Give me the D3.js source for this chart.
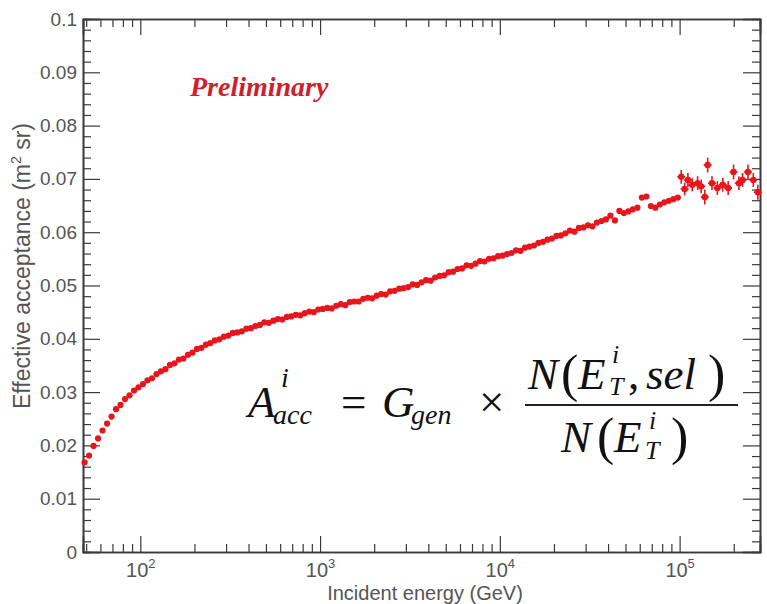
<!DOCTYPE html>
<html>
<head>
<meta charset="utf-8">
<script src="https://cdn.jsdelivr.net/npm/d3@7"></script>
<style>
  html, body { margin: 0; padding: 0; background: #fff; }
  svg { display: block; }
  .tick text { font-family: "Liberation Sans", Arial, sans-serif; fill: #555; }
</style>
</head>
<body>
<svg id="chart" width="767" height="604"></svg>
<script>
// ---------------- data ----------------
// log10 of incident energy (GeV), low-energy bins
const logEnergy = [
  1.690,1.715,1.740,1.765,1.790,1.815,1.840,1.865,1.890,1.915,1.940,1.965,1.990,
  2.015,2.040,2.065,2.090,2.115,2.140,2.165,2.190,2.215,2.240,2.265,2.290,2.315,
  2.340,2.365,2.390,2.415,2.440,2.465,2.490,2.515,2.540,2.565,2.590,2.615,2.640,
  2.665,2.690,2.715,2.740,2.765,2.790,2.815,2.840,2.865,2.890,2.915,2.940,2.965,
  2.990,3.015,3.040,3.065,3.090,3.115,3.140,3.165,3.190,3.215,3.240,3.265,3.290,
  3.315,3.340,3.365,3.390,3.415,3.440,3.465,3.490,3.515,3.540,3.565,3.590,3.615,
  3.640,3.665,3.690,3.715,3.740,3.765,3.790,3.815,3.840,3.865,3.890,3.915,3.940,
  3.965,3.990,4.015,4.040,4.065,4.090,4.115,4.140,4.165,4.190,4.215,4.240,4.265,
  4.290,4.315,4.340,4.365,4.390,4.415,4.440,4.465,4.490,4.515,4.540,4.565,4.590,
  4.615,4.640,4.665,4.690,4.715,4.740,4.765,4.790,4.815,4.840,4.865,4.890,4.915,
  4.940,4.965,4.990
];
// effective acceptance (m^2 sr) for those bins
const acceptance = [
  0.0168,0.0181,0.0199,0.0213,0.0228,0.0241,0.0254,0.0268,0.0276,0.0287,0.0294,0.0303,0.0309,
  0.0315,0.0322,0.0326,0.0334,0.0339,0.0343,0.0351,0.0354,0.0361,0.0363,0.0370,0.0374,0.0381,
  0.0383,0.0389,0.0392,0.0397,0.0399,0.0404,0.0406,0.0411,0.0412,0.0414,0.0419,0.0420,0.0424,
  0.0426,0.0431,0.0430,0.0434,0.0437,0.0436,0.0441,0.0442,0.0445,0.0444,0.0448,0.0451,0.0450,
  0.0455,0.0456,0.0458,0.0457,0.0462,0.0465,0.0463,0.0469,0.0470,0.0470,0.0475,0.0477,0.0476,
  0.0481,0.0484,0.0483,0.0489,0.0490,0.0494,0.0495,0.0497,0.0502,0.0501,0.0506,0.0510,0.0509,
  0.0515,0.0518,0.0519,0.0525,0.0526,0.0531,0.0532,0.0538,0.0537,0.0541,0.0546,0.0545,0.0550,
  0.0551,0.0555,0.0556,0.0559,0.0561,0.0566,0.0565,0.0571,0.0573,0.0575,0.0580,0.0582,0.0586,
  0.0588,0.0593,0.0594,0.0598,0.0603,0.0601,0.0608,0.0609,0.0613,0.0611,0.0618,0.0621,0.0624,
  0.0631,0.0622,0.0640,0.0636,0.0639,0.0643,0.0646,0.0665,0.0667,0.0649,0.0646,0.0652,0.0656,
  0.0659,0.0662,0.0665
];
// high-energy bins with visible error bars
const logEnergyHigh = [
  5.009,5.028,5.046,5.070,5.100,5.120,5.140,5.156,5.180,5.210,5.240,5.270,5.300,5.330,5.350,5.380,5.410,5.435
];
const acceptanceHigh = [
  0.0704,0.0681,0.0698,0.0689,0.0692,0.0686,0.0666,0.0726,0.0692,0.0683,0.0689,0.0683,0.0713,0.0692,0.0698,0.0713,0.0698,0.0675
];
const errorHigh = [
  0.0013,0.0012,0.0013,0.0012,0.0013,0.0013,0.0014,0.0014,0.0013,0.0013,0.0013,0.0013,0.0014,0.0013,0.0013,0.0014,0.0013,0.0014
];
const yTicks = [0,0.01,0.02,0.03,0.04,0.05,0.06,0.07,0.08,0.09,0.1];
const yTickLabels = ["0","0.01","0.02","0.03","0.04","0.05","0.06","0.07","0.08","0.09","0.1"];
const xDecades = [100,1000,10000,100000];
const xDecadeExp = ["2","3","4","5"];

// ---------------- layout ----------------
const L = 83, R = 760, T = 19, B = 552;
const svg = d3.select("#chart");
const x = d3.scaleLog().domain([48, 2.8e5]).range([L, R]);
const y = d3.scaleLinear().domain([0, 0.1]).range([B, T]);

// minor ticks
const yMinor = d3.range(0, 0.1001, 0.002).filter(v => !yTicks.some(t => Math.abs(t - v) < 1e-9));
const xMinor = [];
[10,100,1000,10000,100000].forEach(d => { for (let k = 2; k <= 9; k++) { const v = d * k; if (v >= 48 && v <= 2.8e5) xMinor.push(v); } });

const axisColor = "#3a3a3a";
const majLen = 17, minLen = 8;

// Left axis (major with labels)
const gL = svg.append("g").attr("transform", `translate(${L},0)`);
gL.call(d3.axisLeft(y).tickValues(yTicks).tickSize(-majLen).tickPadding(6)
  .tickFormat((d,i) => yTickLabels[i]));
gL.call(g => g.selectAll(".tick text").attr("font-size", 19));
gL.append("g").call(d3.axisLeft(y).tickValues(yMinor).tickSize(-minLen).tickFormat(""));

// Right axis ticks
const gR = svg.append("g").attr("transform", `translate(${R},0)`);
gR.call(d3.axisRight(y).tickValues(yTicks).tickSize(-majLen).tickFormat(""));
gR.append("g").call(d3.axisRight(y).tickValues(yMinor).tickSize(-minLen).tickFormat(""));

// Bottom axis
const gB = svg.append("g").attr("transform", `translate(0,${B})`);
gB.call(d3.axisBottom(x).tickValues(xDecades).tickSize(-16).tickPadding(0).tickFormat(""));
gB.append("g").call(d3.axisBottom(x).tickValues(xMinor).tickSize(-minLen).tickFormat(""));
gB.selectAll(".tick").filter(d => xDecades.includes(d)).each(function(d) {
  const i = xDecades.indexOf(d);
  const t = d3.select(this).append("text")
    .attr("y", 25).attr("text-anchor", "middle")
    .attr("font-size", 20).attr("fill", "#555")
    .style("font-family", '"Liberation Sans", Arial, sans-serif');
  t.append("tspan").text("10");
  t.append("tspan").attr("dy", -9).attr("font-size", 13).text(xDecadeExp[i]);
});

// Top axis ticks
const gT = svg.append("g").attr("transform", `translate(0,${T})`);
gT.call(d3.axisTop(x).tickValues(xDecades).tickSize(-16).tickFormat(""));
gT.append("g").call(d3.axisTop(x).tickValues(xMinor).tickSize(-minLen).tickFormat(""));

svg.selectAll(".domain").attr("stroke", axisColor).attr("stroke-width", 1.6);
svg.selectAll(".tick line").attr("stroke", axisColor).attr("stroke-width", 1.2);

// Axis titles
svg.append("text")
  .attr("x", 425).attr("y", 600).attr("text-anchor", "middle")
  .attr("font-size", 20).attr("fill", "#555")
  .style("font-family", '"Liberation Sans", Arial, sans-serif')
  .text("Incident energy (GeV)");

const yt = svg.append("text")
  .attr("transform", "translate(30,266) rotate(-90)")
  .attr("text-anchor", "middle")
  .attr("font-size", 23).attr("fill", "#555")
  .style("font-family", '"Liberation Sans", Arial, sans-serif');
yt.append("tspan").text("Effective acceptance (m");
yt.append("tspan").attr("dy", -9).attr("font-size", 14).text("2");
yt.append("tspan").attr("dy", 9).text(" sr)");

// ---------------- data marks ----------------
const red = "#e8161c";
const lowData = logEnergy.map((l, i) => ({ e: Math.pow(10, l), v: acceptance[i] }));
const highData = logEnergyHigh.map((l, i) => ({ e: Math.pow(10, l), v: acceptanceHigh[i], err: errorHigh[i] }));

svg.append("g").selectAll("circle").data(lowData).join("circle")
  .attr("cx", d => x(d.e)).attr("cy", d => y(d.v)).attr("r", 3.1).attr("fill", red);

const hg = svg.append("g");
hg.selectAll("line.v").data(highData).join("line").attr("class", "v")
  .attr("x1", d => x(d.e)).attr("x2", d => x(d.e))
  .attr("y1", d => y(d.v - d.err)).attr("y2", d => y(d.v + d.err))
  .attr("stroke", red).attr("stroke-width", 1.6);
hg.selectAll("line.h").data(highData).join("line").attr("class", "h")
  .attr("x1", d => x(d.e) - 4).attr("x2", d => x(d.e) + 4)
  .attr("y1", d => y(d.v)).attr("y2", d => y(d.v))
  .attr("stroke", red).attr("stroke-width", 1.6);
hg.selectAll("circle").data(highData).join("circle")
  .attr("cx", d => x(d.e)).attr("cy", d => y(d.v)).attr("r", 3.2).attr("fill", red);

// ---------------- annotations ----------------
svg.append("text")
  .attr("x", 190).attr("y", 96)
  .attr("font-size", 28).attr("font-weight", "bold").attr("font-style", "italic")
  .attr("fill", "#d0202c")
  .style("font-family", '"Liberation Serif", "Times New Roman", serif')
  .text("Preliminary");

// formula
const f = svg.append("g").style("font-family", '"Liberation Serif", "Times New Roman", serif').attr("fill", "#111");
function tx(str, xx, yy, size, italic) {
  f.append("text").attr("x", xx).attr("y", yy).attr("font-size", size)
    .attr("font-style", italic ? "italic" : "normal").text(str);
}
// left side
tx("A", 248, 417, 45, true);
tx("i", 281, 387, 28, true);
tx("acc", 273, 424, 28, true);
tx("=", 341, 417, 45, false);
tx("G", 382, 417, 45, true);
tx("gen", 411, 424, 28, true);
tx("\u00D7", 479, 417, 45, false);
// fraction bar
f.append("line").attr("x1", 525).attr("x2", 738).attr("y1", 405).attr("y2", 405)
  .attr("stroke", "#222").attr("stroke-width", 2);
// numerator
tx("N", 528, 389, 45, true);
tx("(", 561, 391, 52, false);
tx("E", 578, 389, 45, true);
tx("i", 612, 363, 26, true);
tx("T", 609, 395, 26, true);
tx(",", 628, 389, 45, false);
tx("sel", 646, 389, 45, true);
tx(")", 708, 391, 52, false);
// denominator
tx("N", 561, 452, 45, true);
tx("(", 597, 454, 52, false);
tx("E", 614, 452, 45, true);
tx("i", 649, 429, 26, true);
tx("T", 645, 459, 26, true);
tx(")", 671, 454, 52, false);
</script>
</body>
</html>
